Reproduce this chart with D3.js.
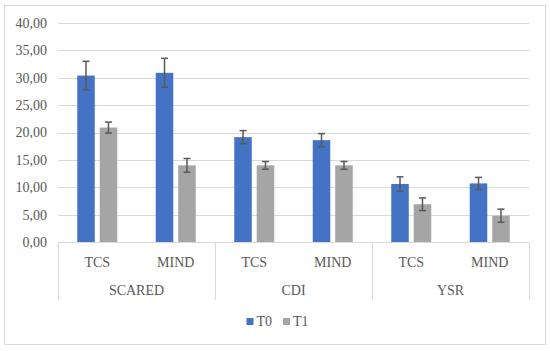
<!DOCTYPE html>
<html>
<head>
<meta charset="utf-8">
<script src="https://cdn.jsdelivr.net/npm/d3@7"></script>
<style>
  body { margin: 0; background: #fff; }
</style>
</head>
<body>
<div id="chart"></div>
<script>
// chart data
var groups = ["SCARED", "CDI", "YSR"];
var subcats = ["TCS", "MIND"];
var series = ["T0", "T1"];
var t0Values = [30.4, 30.9, 19.15, 18.6, 10.6, 10.7];
var t0Errors = [2.6, 2.65, 1.2, 1.2, 1.3, 1.1];
var t1Values = [20.9, 14.0, 14.0, 14.0, 6.9, 4.8];
var t1Errors = [1.0, 1.25, 0.7, 0.7, 1.15, 1.2];
var yTicks = [0, 5, 10, 15, 20, 25, 30, 35, 40];

var svgWidth = 550;
var svgHeight = 351;
var margin = { top: 23, right: 21, bottom: 109, left: 58 };
var width = svgWidth - margin.left - margin.right;
var height = svgHeight - margin.top - margin.bottom;
var colors = { T0: "#4472C4", T1: "#A5A5A5" };
var fontFamily = "Liberation Serif";

var svg = d3.select("#chart")
  .append("svg")
  .attr("width", svgWidth)
  .attr("height", svgHeight);

// outer frame
svg.append("rect")
  .attr("x", 4.5)
  .attr("y", 5.5)
  .attr("width", 541)
  .attr("height", 339)
  .attr("fill", "#fff")
  .attr("stroke", "#D9D9D9")
  .attr("stroke-width", 1);

var chartGroup = svg.append("g")
  .attr("transform", `translate(${margin.left}, ${margin.top})`);

// build rows: one per subcategory
var rows = [];
groups.forEach(function(g, gi) {
  subcats.forEach(function(s, si) {
    var i = gi * subcats.length + si;
    rows.push({
      key: g + "|" + s, group: g, sub: s,
      T0: t0Values[i], T0err: t0Errors[i],
      T1: t1Values[i], T1err: t1Errors[i]
    });
  });
});

var x0 = d3.scaleBand()
  .domain(rows.map(d => d.key))
  .range([0, width]);

var bw = x0.bandwidth();
var x1 = d3.scaleBand()
  .domain(series)
  .range([(bw - 40) / 2, (bw + 40) / 2])
  .paddingInner(0.22);

var y = d3.scaleLinear()
  .domain([0, 40])
  .range([height, 0]);

var locale = d3.formatLocale({ decimal: ",", thousands: ".", grouping: [3], currency: ["", ""] });
var fmt = locale.format(".2f");

// gridlines
chartGroup.selectAll(".grid")
  .data(yTicks.filter(t => t > 0))
  .enter()
  .append("line")
  .attr("x1", 0)
  .attr("x2", width)
  .attr("y1", d => Math.round(y(d)) + 0.5)
  .attr("y2", d => Math.round(y(d)) + 0.5)
  .attr("stroke", "#D9D9D9")
  .attr("stroke-width", 1);

// y axis labels
var yAxis = d3.axisLeft(y)
  .tickValues(yTicks)
  .tickFormat(fmt)
  .tickSize(0)
  .tickPadding(11);

var yAxisG = chartGroup.append("g").call(yAxis)
  .attr("font-family", fontFamily)
  .attr("font-size", 14);
yAxisG.select(".domain").remove();
yAxisG.selectAll("text")
  .attr("font-family", fontFamily)
  .attr("font-size", 14)
  .attr("fill", "#595959");

// bars
var barGroups = chartGroup.selectAll(".cat")
  .data(rows)
  .enter()
  .append("g")
  .attr("transform", d => `translate(${x0(d.key)},0)`);

series.forEach(function(s) {
  barGroups.append("rect")
    .attr("x", x1(s))
    .attr("width", x1.bandwidth())
    .attr("y", d => y(d[s]))
    .attr("height", d => height - y(d[s]))
    .attr("fill", colors[s]);

  // error bars
  var eb = barGroups.append("g")
    .attr("stroke", "#595959")
    .attr("stroke-width", 1.5);
  var cx = x1(s) + x1.bandwidth() / 2;
  eb.append("line")
    .attr("x1", cx).attr("x2", cx)
    .attr("y1", d => y(d[s] + d[s + "err"]))
    .attr("y2", d => y(d[s] - d[s + "err"]));
  eb.append("line")
    .attr("x1", cx - 3.5).attr("x2", cx + 3.5)
    .attr("y1", d => y(d[s] + d[s + "err"]))
    .attr("y2", d => y(d[s] + d[s + "err"]));
  eb.append("line")
    .attr("x1", cx - 3.5).attr("x2", cx + 3.5)
    .attr("y1", d => y(d[s] - d[s + "err"]))
    .attr("y2", d => y(d[s] - d[s + "err"]));
});

// category axis
var axisY = Math.round(height) + 0.5;
chartGroup.append("line")
  .attr("x1", 0).attr("x2", width)
  .attr("y1", axisY).attr("y2", axisY)
  .attr("stroke", "#D9D9D9");

var groupWidth = bw * subcats.length;
d3.range(groups.length + 1).forEach(function(i) {
  var gx = Math.round(i * groupWidth) + 0.5;
  chartGroup.append("line")
    .attr("x1", gx).attr("x2", gx)
    .attr("y1", axisY).attr("y2", height + 58)
    .attr("stroke", "#D9D9D9");
});

chartGroup.selectAll(".subLabel")
  .data(rows)
  .enter()
  .append("text")
  .attr("x", d => x0(d.key) + bw / 2)
  .attr("y", height + 24.5)
  .attr("text-anchor", "middle")
  .attr("font-family", fontFamily)
  .attr("font-size", 14)
  .attr("fill", "#595959")
  .text(d => d.sub);

chartGroup.selectAll(".groupLabel")
  .data(groups)
  .enter()
  .append("text")
  .attr("x", (d, i) => (i + 0.5) * groupWidth)
  .attr("y", height + 53)
  .attr("text-anchor", "middle")
  .attr("font-family", fontFamily)
  .attr("font-size", 14)
  .attr("fill", "#595959")
  .text(d => d);

// legend
var legend = svg.append("g")
  .attr("transform", "translate(246.5, 318)");

series.forEach(function(s, i) {
  var lg = legend.append("g")
    .attr("transform", `translate(${i * 36.5}, 0)`);
  lg.append("rect")
    .attr("width", 7)
    .attr("height", 7)
    .attr("fill", colors[s]);
  lg.append("text")
    .attr("x", 10)
    .attr("y", 7.5)
    .attr("font-family", fontFamily)
    .attr("font-size", 14)
    .attr("fill", "#595959")
    .text(s);
});
</script>
</body>
</html>
